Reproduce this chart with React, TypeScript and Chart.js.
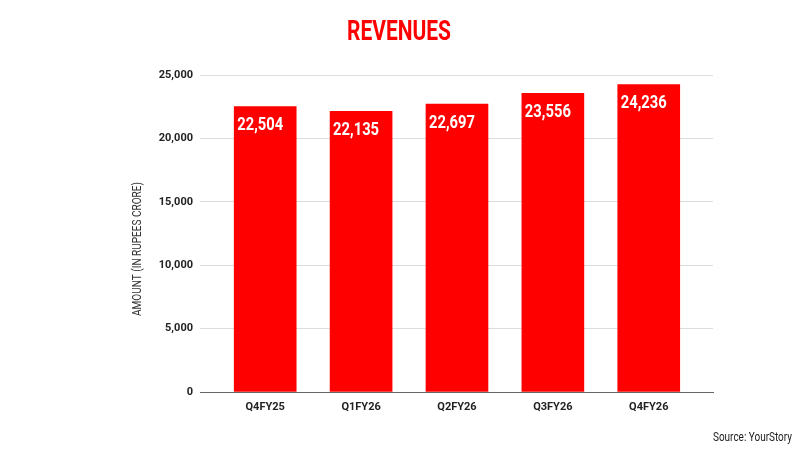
import React, { useEffect, useRef } from "react";
import { Chart, registerables } from "chart.js";

Chart.register(...registerables);

const categories = ["Q4FY25", "Q1FY26", "Q2FY26", "Q3FY26", "Q4FY26"];
const revenues = [22504, 22135, 22697, 23556, 24236];
const yTicks = [0, 5000, 10000, 15000, 20000, 25000];
const titleText = "REVENUES";
const yAxisTitle = "AMOUNT (IN RUPEES CRORE)";
const sourceText = "Source: YourStory";

const FONT = "Roboto, 'Liberation Sans', sans-serif";

function drawFitted(ctx: any, text: string, x: number, y: number, width: number) {
  const w = ctx.measureText(text).width;
  const s = Math.min(1, width / w);
  ctx.save();
  ctx.translate(x, y);
  ctx.scale(s, 1);
  ctx.fillText(text, 0, 0);
  ctx.restore();
}

export default function App() {
  const ref = useRef<HTMLCanvasElement | null>(null);
  useEffect(() => {
    if (!ref.current) return;
    const decor = {
      id: "decor",
      afterDatasetsDraw(chart: any) {
        const ctx = chart.ctx;
        const meta = chart.getDatasetMeta(0);
        ctx.save();
        ctx.fillStyle = "#ffffff";
        ctx.font = `bold 18px ${FONT}`;
        ctx.textAlign = "left";
        ctx.textBaseline = "middle";
        meta.data.forEach((bar: any, i: number) => {
          const left = bar.x - bar.width / 2;
          drawFitted(ctx, revenues[i].toLocaleString("en-US"), left + 3, bar.y + 19, 46);
        });
        ctx.restore();
      },
      afterDraw(chart: any) {
        const ctx = chart.ctx;
        ctx.save();
        ctx.fillStyle = "#ff0000";
        ctx.font = `bold 28px ${FONT}`;
        ctx.textAlign = "center";
        ctx.textBaseline = "middle";
        drawFitted(ctx, titleText, 399, 33, 104);
        ctx.restore();

        ctx.save();
        ctx.fillStyle = "#222222";
        ctx.font = `12px ${FONT}`;
        ctx.textAlign = "right";
        ctx.textBaseline = "middle";
        drawFitted(ctx, sourceText, 792, 438, 79);
        ctx.restore();

        ctx.save();
        ctx.fillStyle = "#333333";
        ctx.font = `12px ${FONT}`;
        ctx.textAlign = "center";
        ctx.textBaseline = "middle";
        ctx.translate(138, 249);
        ctx.rotate(-Math.PI / 2);
        drawFitted(ctx, yAxisTitle, 0, 0, 134);
        ctx.restore();
      },
    };
    const chart = new Chart(ref.current, {
      type: "bar",
      data: {
        datasets: [
          {
            data: categories.map((_, i) => ({ x: i, y: revenues[i] })),
            backgroundColor: "#ff0000",
            borderWidth: 0,
            barThickness: 62,
          },
        ],
      },
      options: {
        animation: false,
        responsive: false,
        maintainAspectRatio: false,
        layout: { padding: { left: 125, right: 87, top: 75, bottom: 28 } },
        plugins: { legend: { display: false }, tooltip: { enabled: false }, title: { display: false } },
        scales: {
          x: {
            type: "linear",
            offset: false,
            min: -0.68,
            max: 4.67,
            afterBuildTicks: (s: any) => {
              s.ticks = categories.map((_, i) => ({ value: i }));
            },
            afterFit: (s: any) => {
              s.height = 30;
            },
            grid: { display: false, drawTicks: false },
            border: { display: true, color: "#666666", width: 1 },
            ticks: {
              padding: 9,
              color: "#222222",
              font: { family: FONT, size: 11, weight: "bold" },
              callback: (v: any) => categories[Math.round(Number(v))] ?? "",
              autoSkip: false,
              maxRotation: 0,
            },
          },
          y: {
            min: 0,
            max: 25000,
            afterBuildTicks: (s: any) => {
              s.ticks = yTicks.map((v) => ({ value: v }));
            },
            afterFit: (s: any) => {
              s.width = 75;
            },
            grid: { color: "#dddddd", drawTicks: false },
            border: { display: false },
            ticks: {
              padding: 7,
              color: "#222222",
              font: { family: FONT, size: 11, weight: "bold" },
              callback: (v: any) => Number(v).toLocaleString("en-US"),
            },
          },
        },
      },
      plugins: [decor],
    } as any);
    return () => chart.destroy();
  }, []);
  return (
    <div style={{ position: "absolute", left: 0, top: 0, width: 800, height: 450, background: "#fff" }}>
      <canvas ref={ref} width={800} height={450} />
    </div>
  );
}
